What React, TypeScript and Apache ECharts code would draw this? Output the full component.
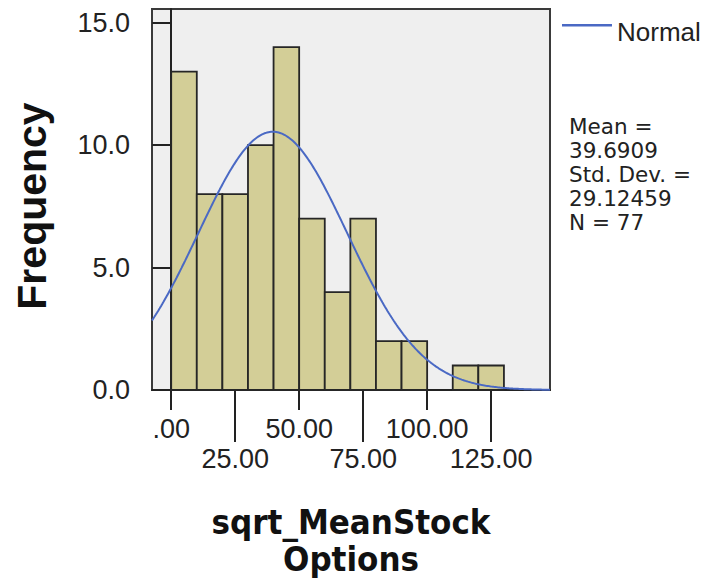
import React, { useEffect, useRef } from "react";
import * as echarts from "echarts";

// Histogram bins (lower edges) and their frequencies
const binStarts = [0, 10, 20, 30, 40, 50, 60, 70, 80, 90, 100, 110, 120];
const binWidth = 10;
const counts = [13, 8, 8, 10, 14, 7, 4, 7, 2, 2, 0, 1, 1];

// Descriptive statistics printed beside the plot
const mean = 39.6909;
const stdDev = 29.12459;
const n = 77;

// Axis tick values (x ticks alternate between a short and a long row)
const xTicksUpper = [0, 50, 100];
const xTicksLower = [25, 75, 125];
const yTicks = [0, 5, 10, 15];

const xMin = -7.5;
const xMax = 148;
const yMax = 15.56;

const labelFont = "'Liberation Sans', Arial, sans-serif";
const statsFont = "'DejaVu Sans', sans-serif";
const titleFont = "'DejaVu Sans Condensed', 'DejaVu Sans', sans-serif";

// Normal density scaled to counts: N * binWidth * pdf(x)
const normalCurve: number[][] = [];
for (let x = xMin; x <= xMax; x += 0.5) {
  const z = (x - mean) / stdDev;
  const y = (n * binWidth) / (stdDev * Math.sqrt(2 * Math.PI)) * Math.exp(-0.5 * z * z);
  normalCurve.push([x, y]);
}

const xFmt = (v: number) => (v === 0 ? ".00" : v.toFixed(2));

export default function App() {
  const ref = useRef<HTMLDivElement>(null);

  useEffect(() => {
    if (!ref.current) return;
    const chart = echarts.init(ref.current, undefined, { renderer: "svg" });

    const axisLineStyle = { color: "#222", width: 2 };
    const tickLabel = { fontSize: 27, color: "#222", fontFamily: labelFont };

    chart.setOption({
      animation: false,
      textStyle: { fontFamily: labelFont },
      grid: {
        left: 152,
        right: 167,
        top: 9,
        bottom: 195,
        show: true,
        backgroundColor: "#EFEFEF",
        borderColor: "#3a3a3a",
        borderWidth: 2,
      },
      legend: {
        data: ["Normal"],
        left: 557,
        top: 14,
        // short line sitting a little above the text's middle
        icon: "path://M0,0H50V2.5H0Z M0,16H0.01V16.01H0Z",
        itemWidth: 50,
        itemHeight: 16,
        textStyle: { fontSize: 26, color: "#222", fontFamily: labelFont },
      },
      xAxis: [
        {
          type: "value",
          min: xMin,
          max: xMax,
          position: "bottom",
          axisLine: { show: true, lineStyle: axisLineStyle },
          axisTick: { show: true, customValues: xTicksUpper, length: 20, lineStyle: axisLineStyle },
          axisLabel: { ...tickLabel, customValues: xTicksUpper, margin: 25, formatter: xFmt },
          splitLine: { show: false },
        },
        {
          type: "value",
          min: xMin,
          max: xMax,
          position: "bottom",
          axisLine: { show: false },
          axisTick: { show: true, customValues: xTicksLower, length: 52, lineStyle: axisLineStyle },
          axisLabel: { ...tickLabel, customValues: xTicksLower, margin: 55, formatter: xFmt },
          splitLine: { show: false },
        },
      ],
      yAxis: {
        type: "value",
        min: 0,
        max: yMax,
        axisLine: { show: true, lineStyle: axisLineStyle },
        axisTick: { show: true, customValues: yTicks, length: 19, lineStyle: axisLineStyle },
        axisLabel: { ...tickLabel, customValues: yTicks, margin: 22, formatter: (v: number) => v.toFixed(1) },
        splitLine: { show: false },
      },
      series: [
        {
          type: "custom",
          name: "Frequency",
          xAxisIndex: 0,
          yAxisIndex: 0,
          encode: { x: [0, 1], y: 2 },
          data: binStarts.map((s, i) => [s, s + binWidth, counts[i]]),
          renderItem: (_params: any, api: any) => {
            const c = api.value(2);
            if (!c) return { type: "group", children: [] };
            const p0 = api.coord([api.value(0), c]);
            const p1 = api.coord([api.value(1), 0]);
            return {
              type: "rect",
              shape: { x: p0[0], y: p0[1], width: p1[0] - p0[0], height: p1[1] - p0[1] },
              style: { fill: "#D3CE97", stroke: "#262626", lineWidth: 1.8 },
            };
          },
        },
        {
          type: "line",
          name: "Normal",
          xAxisIndex: 0,
          yAxisIndex: 0,
          data: normalCurve,
          symbol: "none",
          showSymbol: false,
          smooth: false,
          lineStyle: { color: "#4A69C4", width: 2 },
          itemStyle: { color: "#4A69C4" },
        },
      ],
      graphic: [
        {
          type: "text",
          left: 569,
          top: 114,
          style: {
            text: `Mean =\n${mean}\nStd. Dev. =\n${stdDev}\nN = ${n}`,
            fontSize: 21.5,
            lineHeight: 24,
            fill: "#222",
            fontFamily: statsFont,
          },
        },
        {
          type: "text",
          x: 32,
          y: 206,
          rotation: Math.PI / 2,
          style: {
            text: "Frequency",
            fontSize: 41,
            fontWeight: "bold",
            fontFamily: labelFont,
            align: "center",
            verticalAlign: "middle",
            fill: "#111",
          },
        },
        {
          type: "text",
          x: 351,
          y: 503,
          style: {
            text: "sqrt_MeanStock\nOptions",
            fontSize: 34.5,
            fontWeight: "bold",
            fontFamily: titleFont,
            lineHeight: 37,
            align: "center",
            verticalAlign: "top",
            fill: "#111",
          },
        },
      ],
    });

    return () => chart.dispose();
  }, []);

  return (
    <div
      ref={ref}
      style={{ position: "fixed", left: 0, top: 0, width: 717, height: 585, background: "#fff" }}
    />
  );
}
